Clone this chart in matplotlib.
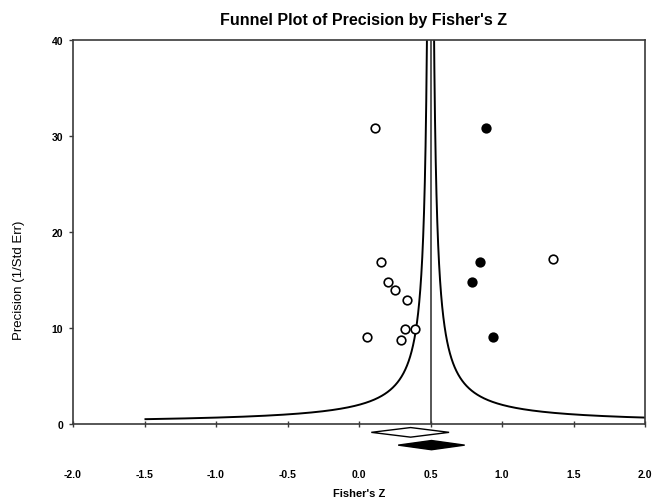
import numpy as np
import matplotlib
matplotlib.use("Agg")
import matplotlib.pyplot as plt
from matplotlib.patches import Polygon

# ---- data ----
observed_z = [0.115, 0.152, 0.206, 0.252, 0.336, 0.322, 0.395, 0.059, 0.294, 1.36]
observed_prec = [30.8, 16.9, 14.8, 14.0, 12.9, 9.9, 9.9, 9.1, 8.7, 17.2]
imputed_z = [0.885, 0.845, 0.790, 0.937]
imputed_prec = [30.8, 16.9, 14.8, 9.1]

funnel_center = 0.5        # adjusted estimate (vertical line)
funnel_mult = 1.0          # half-width multiplier of the funnel
funnel_prec_min = 0.5

observed_summary = [0.086, 0.361, 0.630]   # lower, point, upper
adjusted_summary = [0.274, 0.507, 0.739]

xticks = [-2.0, -1.5, -1.0, -0.5, 0.0, 0.5, 1.0, 1.5, 2.0]
yticks = [0, 10, 20, 30, 40]

plt.rcParams['font.family'] = ['Liberation Sans', 'DejaVu Sans']

fig = plt.figure(figsize=(6.54, 5.02), dpi=100)
ax = fig.add_axes([73/654, 1-425/502, (645-73)/654, (425-41)/502])
ax.set_xlim(-2, 2)
ax.set_ylim(0, 40)

frame_col = '#3a3a3a'
for s in ax.spines.values():
    s.set_color(frame_col)
    s.set_linewidth(1.2)

# funnel
prec = np.concatenate([np.linspace(funnel_prec_min, 3, 2000), np.linspace(3, 45, 3000)])
ax.plot(funnel_center - funnel_mult / prec, prec, color='black', lw=1.4, solid_capstyle='butt')
ax.plot(funnel_center + funnel_mult / prec, prec, color='black', lw=1.4, solid_capstyle='butt')
ax.plot([funnel_center, funnel_center], [0, 40], color=frame_col, lw=1.2)

# points
ax.plot(observed_z, observed_prec, 'o', ms=6.2, mfc='white', mec='black', mew=1.2, zorder=5)
ax.plot(imputed_z, imputed_prec, 'o', ms=6.2, mfc='black', mec='black', mew=1.2, zorder=5)

# summary diamonds below the axis
def diamond(vals, yc, hh, face):
    lo, pt, hi = vals
    poly = Polygon([[lo, yc], [pt, yc + hh], [hi, yc], [pt, yc - hh]], closed=True,
                   facecolor=face, edgecolor='black', lw=1.0, clip_on=False, zorder=6)
    ax.add_patch(poly)

diamond(observed_summary, -0.87, 0.5, 'white')
diamond(adjusted_summary, -2.2, 0.48, 'black')

ax.set_xticks(xticks)
ax.set_xticklabels([f"{v:.1f}" for v in xticks])
ax.set_yticks(yticks)
ax.set_yticklabels([str(v) for v in yticks])
ax.tick_params(axis='x', direction='inout', length=5, width=1, color=frame_col,
               pad=30, labelsize=7.5)
ax.tick_params(axis='y', direction='out', length=3, width=1, color=frame_col,
               pad=4, labelsize=7.5)
for lab in ax.get_xticklabels() + ax.get_yticklabels():
    lab.set_fontweight('bold')

fig.text(364/654, 1-20/502, "Funnel Plot of Precision by Fisher's Z", ha='center', va='center',
         fontsize=11.5, fontweight='bold')
fig.text(359/654, 1-494/502, "Fisher's Z", ha='center', va='center',
         fontsize=8, fontweight='bold')
fig.text(19/654, 1-280/502, "Precision (1/Std Err)", ha='center', va='center',
         rotation=90, fontsize=9.5)

fig.savefig("out.png", dpi=100)
